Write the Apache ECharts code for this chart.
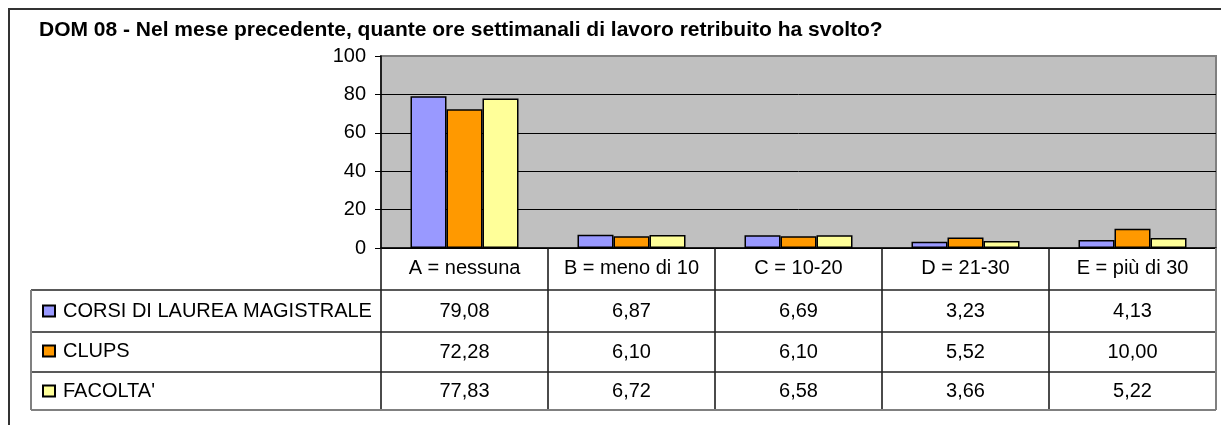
<!DOCTYPE html>
<html>
<head>
<meta charset="utf-8">
<script src="https://cdn.jsdelivr.net/npm/echarts@6/dist/echarts.min.js"></script>
<style>html,body{margin:0;padding:0;background:#fff;}#c{width:1221px;height:425px;}</style>
</head>
<body>
<div id="c"></div>
<script>
const titleText = "DOM 08 - Nel mese precedente, quante ore settimanali di lavoro retribuito ha svolto?";
const categories = ["A = nessuna", "B = meno di 10", "C = 10-20", "D = 21-30", "E = più di 30"];
const seriesNames = ["CORSI DI LAUREA MAGISTRALE", "CLUPS", "FACOLTA'"];
const corsiValues = [79.08, 6.87, 6.69, 3.23, 4.13];
const clupsValues = [72.28, 6.10, 6.10, 5.52, 10.00];
const facoltaValues = [77.83, 6.72, 6.58, 3.66, 5.22];
const yTicks = { min: 0, max: 100, interval: 20 };

const seriesValues = [corsiValues, clupsValues, facoltaValues];
const colors = ["#9999FF", "#FF9900", "#FFFF99"];
const FONT = "'Liberation Sans', Arial, sans-serif";

const G = { left: 381, top: 56, right: 1216, bottom: 248 };
const rows = [290, 332, 372, 410];
const tableLeft = 31;

const fmt = v => v.toFixed(2).replace('.', ',');

const chart = echarts.init(document.getElementById('c'), null, { renderer: 'canvas' });

const dataAxes = seriesValues.map((vals, i) => ({
  type: 'category',
  gridIndex: 0,
  position: 'bottom',
  offset: [43, 84, 123][i],
  data: categories,
  axisLine: { show: false },
  axisTick: { show: false },
  splitLine: { show: false },
  axisLabel: {
    show: true, interval: 0, margin: 10,
    fontFamily: FONT, fontSize: 20, color: '#000',
    formatter: (val, idx) => fmt(vals[idx])
  }
}));

const line = (x1, y1, x2, y2, color, w) => ({
  type: 'line', silent: true, z: 100,
  shape: { x1, y1, x2, y2 },
  style: { stroke: color, lineWidth: w }
});

chart.setOption({
  animation: false,
  backgroundColor: '#fff',
  title: {
    text: titleText, left: 34, top: 15,
    textStyle: { fontFamily: FONT, fontSize: 21, fontWeight: 'bold', color: '#000' }
  },
  legend: {
    orient: 'vertical', left: 37, top: 296,
    itemWidth: 12, itemHeight: 11, itemGap: 20, icon: 'rect',
    data: seriesNames,
    textStyle: { fontFamily: FONT, fontSize: 20, color: '#000', lineHeight: 20, padding: [0, 0, 0, 3] }
  },
  grid: {
    left: G.left, top: G.top, width: G.right - G.left, height: G.bottom - G.top,
    show: true, backgroundColor: '#C0C0C0', borderColor: '#808080', borderWidth: 2,
    containLabel: false
  },
  xAxis: [{
    type: 'category',
    data: categories,
    axisLine: { show: true, lineStyle: { color: '#000', width: 1.5 } },
    axisTick: { show: true, length: 162, lineStyle: { color: '#111', width: 1.5 } },
    axisLabel: { show: true, interval: 0, margin: 10, fontFamily: FONT, fontSize: 20, color: '#000' },
    splitLine: { show: false }
  }].concat(dataAxes),
  yAxis: {
    type: 'value', min: yTicks.min, max: yTicks.max, interval: yTicks.interval,
    axisLine: { show: true, lineStyle: { color: '#000', width: 1.5 } },
    axisTick: { show: true, length: 6, lineStyle: { color: '#000' } },
    axisLabel: { fontFamily: FONT, fontSize: 20, color: '#000', margin: 15 },
    splitLine: { show: true, lineStyle: { color: ['#000', '#000', '#000', '#000', '#000', '#808080'], width: 1 } }
  },
  series: seriesValues.map((vals, i) => ({
    name: seriesNames[i],
    type: 'bar',
    data: vals,
    barWidth: 36,
    barGap: '0%',
    itemStyle: { color: colors[i], borderColor: '#000', borderWidth: 1.5 }
  })),
  graphic: [
    { type: 'polyline', silent: true, z: 100, shape: { points: [[9, 425], [9, 9], [1221, 9]] }, style: { stroke: '#333', lineWidth: 2, fill: null } },
    line(tableLeft, rows[0], G.right, rows[0], '#222', 1.5),
    line(tableLeft, rows[1], G.right, rows[1], '#222', 1.5),
    line(tableLeft, rows[2], G.right, rows[2], '#222', 1.5),
    line(tableLeft, rows[3], G.right, rows[3], '#808080', 2),
    line(tableLeft, rows[0], tableLeft, rows[3], '#808080', 2),
    line(G.right, G.bottom, G.right, rows[3], '#808080', 2)
  ]
});
</script>
</body>
</html>
